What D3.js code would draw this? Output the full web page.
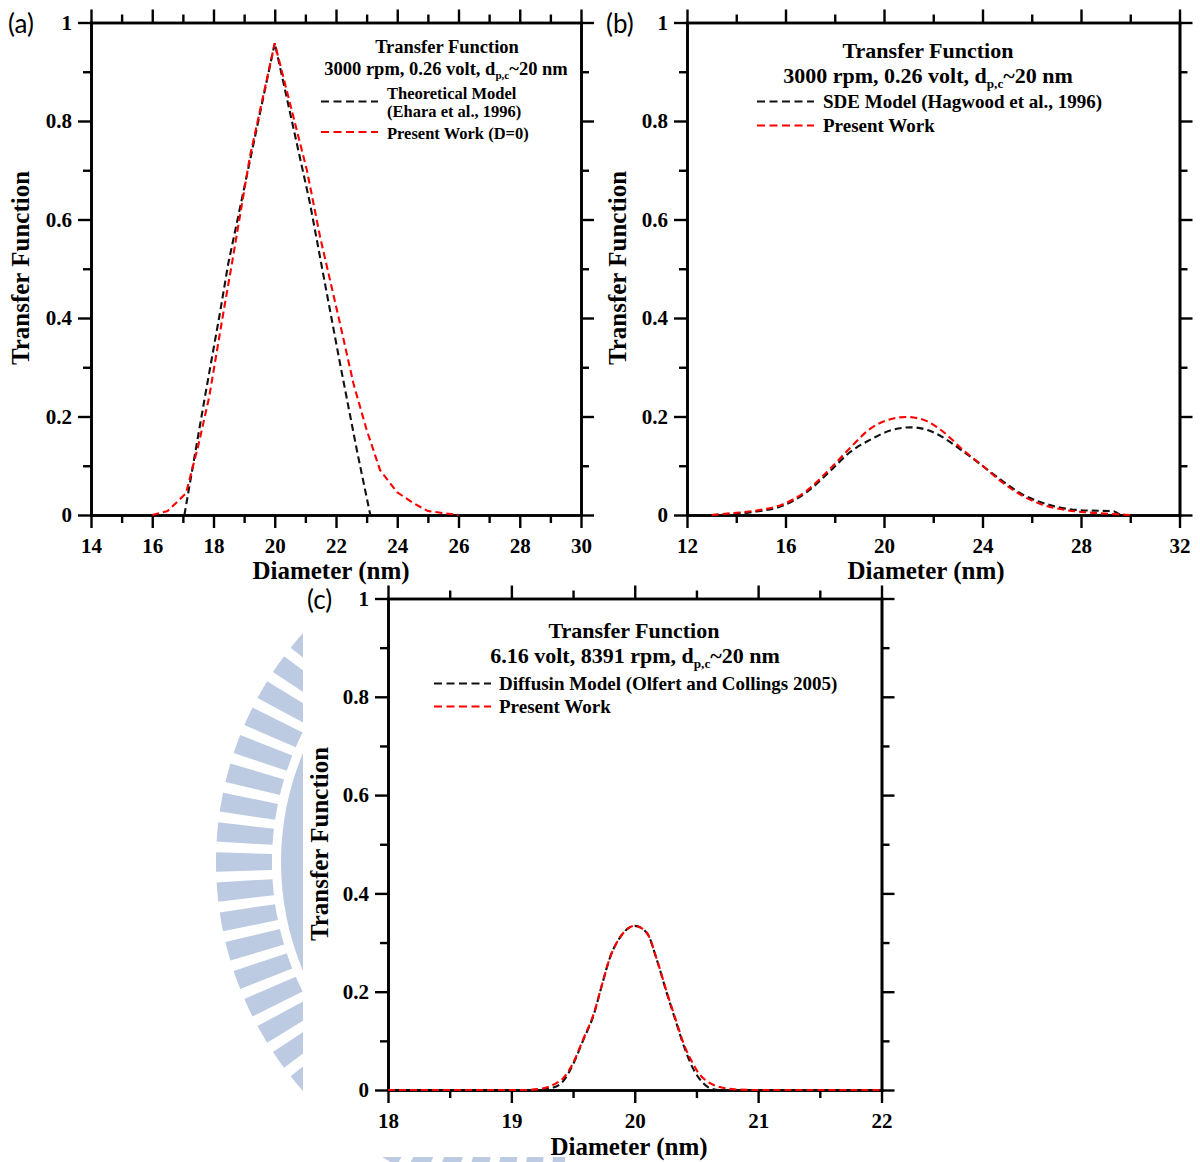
<!DOCTYPE html>
<html><head><meta charset="utf-8">
<script src="https://cdn.jsdelivr.net/npm/d3@7"></script>
<style>body{margin:0;background:#fff} svg{display:block}</style>
</head><body>
<svg id="chart" width="1200" height="1162"></svg>
<script>
// ---------- data ----------
const yTickValues = [0, 0.2, 0.4, 0.6, 0.8, 1];
const yTickLabels = ["0", "0.2", "0.4", "0.6", "0.8", "1"];
const yMinorValues = [0.1, 0.3, 0.5, 0.7, 0.9];

const aXTicks = [14, 16, 18, 20, 22, 24, 26, 28, 30];
const aXMinor = [15, 17, 19, 21, 23, 25, 27, 29];
const bXTicks = [12, 16, 20, 24, 28, 32];
const bXMinor = [14, 18, 22, 26, 30];
const cXTicks = [18, 19, 20, 21, 22];
const cXMinor = [18.5, 19.5, 20.5, 21.5];

// (a) Theoretical Model (Ehara et al., 1996) vs Present Work (D=0)
const aTheory = [[17.05,0],[17.72,0.24],[18.21,0.41],[18.48,0.51],[20,0.958],[21.15,0.633],[21.64,0.47],[22.13,0.308],[22.68,0.132],[23.12,0]];
const aPresent = [[16,0],[16.5,0.008],[17.1,0.044],[17.5,0.14],[17.86,0.24],[18.32,0.41],[18.6,0.51],[19.19,0.728],[20,0.958],[21.05,0.70],[21.48,0.565],[22.13,0.389],[22.57,0.267],[23.0,0.173],[23.44,0.091],[24.0,0.046],[24.5,0.025],[25,0.008],[26,0]];

// (b) SDE Model (Hagwood et al., 1996) vs Present Work
const bSDE = [[13,0],[13.87,0.002],[14.82,0.007],[15.9,0.019],[16.85,0.046],[17.79,0.088],[18.6,0.127],[19.41,0.152],[20.22,0.171],[21.09,0.178],[21.8,0.172],[22.38,0.158],[23.19,0.130],[24.0,0.1],[24.81,0.069],[25.62,0.042],[26.43,0.025],[27.38,0.013],[28.32,0.009],[29.27,0.008],[29.6,0]];
const bPresent = [[13,0],[13.87,0.004],[14.82,0.009],[15.9,0.022],[16.85,0.049],[17.79,0.093],[18.6,0.135],[19.41,0.174],[20.22,0.194],[20.89,0.199],[21.57,0.194],[22.38,0.170],[23.19,0.133],[24.0,0.1],[24.81,0.066],[25.62,0.039],[26.43,0.021],[27.38,0.010],[28.32,0.005],[29.67,0.001],[30,0]];

// (c) Diffusin Model (Olfert and Collings 2005) vs Present Work
const cDiffusion = [[18,0],[19.18,0],[19.34,0.005],[19.42,0.018],[19.50,0.052],[19.58,0.10],[19.67,0.155],[19.73,0.21],[19.80,0.27],[19.885,0.312],[20.0,0.334],[20.10,0.319],[20.18,0.264],[20.26,0.197],[20.33,0.142],[20.40,0.088],[20.47,0.045],[20.55,0.015],[20.62,0.003],[20.7,0],[22,0]];
const cPresent = [[18,0],[19.1,0],[19.25,0.003],[19.35,0.012],[19.42,0.024],[19.50,0.055],[19.58,0.102],[19.67,0.157],[19.73,0.21],[19.80,0.27],[19.885,0.312],[20.0,0.334],[20.10,0.319],[20.18,0.265],[20.26,0.199],[20.33,0.145],[20.40,0.092],[20.48,0.05],[20.51,0.037],[20.59,0.017],[20.69,0.006],[20.83,0.001],[21,0],[22,0]];

// ---------- drawing ----------
const svg = d3.select("#chart");
const SERIF = "'Liberation Serif','Times New Roman',serif";

// background watermark (logo fragment)
const wm = svg.append("g");
const wmCx = 561, wmCy = 862;
const wmColor = "#bccae2";
const barArc = d3.arc().innerRadius(289).outerRadius(345);
const barAngles = d3.range(0, 360, 5);
wm.selectAll("path.bar").data(barAngles).join("path")
  .attr("class", "bar")
  .attr("transform", `translate(${wmCx},${wmCy})`)
  .attr("d", a => barArc({startAngle: (a - 1.6) * Math.PI / 180, endAngle: (a + 1.6) * Math.PI / 180}))
  .attr("fill", wmColor);
wm.append("path")
  .attr("transform", `translate(${wmCx},${wmCy})`)
  .attr("d", d3.arc().innerRadius(245).outerRadius(280)({startAngle: 0, endAngle: 2 * Math.PI}))
  .attr("fill", wmColor);
// the chart images cover the watermark
svg.append("rect").attr("x", 0).attr("y", 0).attr("width", 1200).attr("height", 583).attr("fill", "#fff");
svg.append("rect").attr("x", 303).attr("y", 583).attr("width", 897).attr("height", 574).attr("fill", "#fff");
svg.append("rect").attr("x", 565).attr("y", 1150).attr("width", 635).attr("height", 12).attr("fill", "#fff");

function drawPanel(p) {
  const x = d3.scaleLinear().domain(p.xDomain).range([p.left, p.right]);
  const y = d3.scaleLinear().domain([0, 1]).range([p.bottom, p.top]);
  const g = svg.append("g");

  const yFmt = d => yTickLabels[yTickValues.indexOf(d)];
  const xFmt = d => String(d);

  const axes = [
    [d3.axisBottom(x).tickValues(p.xTicks).tickSize(13).tickPadding(10).tickFormat(xFmt), `translate(0,${p.bottom})`],
    [d3.axisBottom(x).tickValues(p.xMinor).tickSize(8).tickFormat(""), `translate(0,${p.bottom})`],
    [d3.axisTop(x).tickValues(p.xTicks).tickSize(13).tickFormat(""), `translate(0,${p.top})`],
    [d3.axisTop(x).tickValues(p.xMinor).tickSize(8).tickFormat(""), `translate(0,${p.top})`],
    [d3.axisLeft(y).tickValues(yTickValues).tickSize(13).tickPadding(6).tickFormat(yFmt), `translate(${p.left},0)`],
    [d3.axisLeft(y).tickValues(yMinorValues).tickSize(8).tickFormat(""), `translate(${p.left},0)`],
    [d3.axisRight(y).tickValues(yTickValues).tickSize(13).tickFormat(""), `translate(${p.right},0)`],
    [d3.axisRight(y).tickValues(yMinorValues).tickSize(8).tickFormat(""), `translate(${p.right},0)`]
  ];
  axes.forEach(([ax, tr]) => {
    const a = g.append("g").attr("transform", tr).call(ax.tickSizeOuter(0));
    a.selectAll(".domain").attr("stroke", "#000").attr("stroke-width", 2.6).attr("stroke-linecap", "square");
    a.selectAll(".tick line").attr("stroke", "#000").attr("stroke-width", 2.4);
    a.selectAll("text").attr("font-family", SERIF).attr("font-weight", "bold")
      .attr("font-size", 21).attr("fill", "#000");
  });

  // curves
  const line = d3.line().x(d => x(d[0])).y(d => y(d[1])).curve(p.curve);
  p.series.forEach(s => {
    g.append("path").datum(s.data)
      .attr("d", line)
      .attr("fill", "none")
      .attr("stroke", s.color)
      .attr("stroke-width", 2.1)
      .attr("stroke-dasharray", "7,4");
  });

  // axis titles
  g.append("text").attr("x", p.xTitle[0]).attr("y", p.xTitle[1])
    .attr("text-anchor", "middle").attr("font-family", SERIF).attr("font-weight", "bold")
    .attr("font-size", 25).text("Diameter (nm)");
  g.append("text").attr("transform", `translate(${p.yTitle[0]},${p.yTitle[1]}) rotate(-90)`)
    .attr("dy", "0.35em")
    .attr("text-anchor", "middle").attr("font-family", SERIF).attr("font-weight", "bold")
    .attr("font-size", 25).text("Transfer Function");

  // panel tag
  g.append("text").attr("x", p.tag[0]).attr("y", p.tag[1])
    .attr("font-family", "Lato, 'Open Sans', sans-serif").attr("font-size", 26)
    .text(p.tagText);

  // legend header
  const L = p.legend;
  g.append("text").attr("x", L.titleX).attr("y", L.titleY)
    .attr("text-anchor", "middle").attr("font-family", SERIF).attr("font-weight", "bold")
    .attr("font-size", L.titleSize).text("Transfer Function");
  const t2 = g.append("text").attr("x", L.line2X).attr("y", L.line2Y)
    .attr("text-anchor", "middle").attr("font-family", SERIF).attr("font-weight", "bold")
    .attr("font-size", L.titleSize);
  t2.append("tspan").text(L.line2a);
  t2.append("tspan").attr("font-size", L.titleSize * 0.6).attr("dy", L.titleSize * 0.22).text("p,c");
  t2.append("tspan").attr("dy", -L.titleSize * 0.22).text("~20 nm");

  L.entries.forEach(e => {
    g.append("line").attr("x1", L.lineX1).attr("x2", L.lineX2)
      .attr("y1", e.lineY).attr("y2", e.lineY)
      .attr("stroke", e.color).attr("stroke-width", 2.2).attr("stroke-dasharray", "8,4.5");
    e.texts.forEach((t, i) => {
      g.append("text").attr("x", L.textX).attr("y", e.textY[i])
        .attr("font-family", SERIF).attr("font-weight", "bold")
        .attr("font-size", L.entrySize).text(t);
    });
  });
}

drawPanel({
  xDomain: [14, 30], left: 91, right: 581, top: 22.5, bottom: 515,
  xTicks: aXTicks, xMinor: aXMinor, curve: d3.curveLinear,
  series: [{data: aTheory, color: "#111"}, {data: aPresent, color: "#ff0000"}],
  xTitle: [331, 579], yTitle: [20, 268], tag: [8, 33], tagText: "(a)",
  legend: {
    titleX: 447, titleY: 53, line2X: 446, line2Y: 74.5, titleSize: 18.5,
    line2a: "3000 rpm, 0.26 volt, d",
    lineX1: 321, lineX2: 378, textX: 387, entrySize: 16.5,
    entries: [
      {color: "#111", lineY: 101.5, texts: ["Theoretical Model", "(Ehara et al., 1996)"], textY: [98.5, 117]},
      {color: "#ff0000", lineY: 132, texts: ["Present Work (D=0)"], textY: [139]}
    ]
  }
});

drawPanel({
  xDomain: [12, 32], left: 687, right: 1179.5, top: 22.5, bottom: 515,
  xTicks: bXTicks, xMinor: bXMinor, curve: d3.curveMonotoneX,
  series: [{data: bSDE, color: "#111"}, {data: bPresent, color: "#ff0000"}],
  xTitle: [926, 579], yTitle: [617, 268], tag: [606, 33], tagText: "(b)",
  legend: {
    titleX: 928, titleY: 58, line2X: 928, line2Y: 83, titleSize: 22,
    line2a: "3000 rpm, 0.26 volt, d",
    lineX1: 757, lineX2: 814, textX: 823, entrySize: 19,
    entries: [
      {color: "#111", lineY: 101.5, texts: ["SDE Model (Hagwood et al., 1996)"], textY: [107.5]},
      {color: "#ff0000", lineY: 125.5, texts: ["Present Work"], textY: [132]}
    ]
  }
});

drawPanel({
  xDomain: [18, 22], left: 388, right: 881.5, top: 598.5, bottom: 1090,
  xTicks: cXTicks, xMinor: cXMinor, curve: d3.curveMonotoneX,
  series: [{data: cDiffusion, color: "#111"}, {data: cPresent, color: "#ff0000"}],
  xTitle: [629, 1155], yTitle: [319, 844], tag: [307, 609], tagText: "(c)",
  legend: {
    titleX: 634, titleY: 638, line2X: 635, line2Y: 663, titleSize: 22,
    line2a: "6.16 volt, 8391 rpm, d",
    lineX1: 434, lineX2: 491, textX: 499, entrySize: 19,
    entries: [
      {color: "#111", lineY: 683.5, texts: ["Diffusin Model (Olfert and Collings 2005)"], textY: [689.5]},
      {color: "#ff0000", lineY: 706.5, texts: ["Present Work"], textY: [713]}
    ]
  }
});
</script>
</body></html>
